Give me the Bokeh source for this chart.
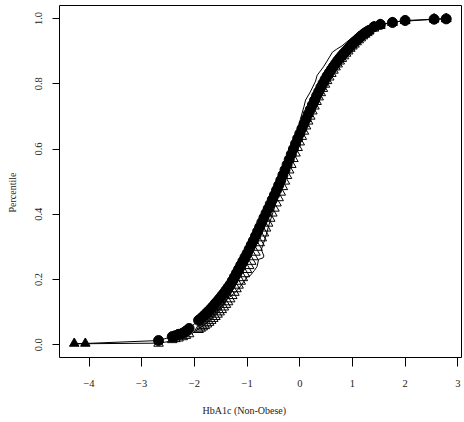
from bokeh.plotting import figure
from bokeh.models import Range1d, FixedTicker, Title, LinearAxis
from bokeh.embed import file_html
from bokeh.resources import INLINE

# ---------------- data ----------------
hba1c = [-2.68, -2.42, -2.36, -2.30, -2.22, -2.16, -2.10,
         -1.92, -1.88, -1.84, -1.80, -1.76, -1.72, -1.68, -1.64, -1.60, -1.56,
         -1.52, -1.48, -1.44, -1.40, -1.36, -1.32, -1.28, -1.24, -1.20, -1.16,
         -1.12, -1.08, -1.04, -1.00, -0.96, -0.92, -0.88, -0.84, -0.80, -0.76,
         -0.72, -0.68, -0.64, -0.60, -0.56, -0.52, -0.48, -0.44, -0.40, -0.36,
         -0.32, -0.28, -0.24, -0.20, -0.16, -0.12, -0.08, -0.04, 0.00, 0.04,
         0.08, 0.12, 0.16, 0.20, 0.24, 0.28, 0.32, 0.36, 0.40, 0.44, 0.48,
         0.52, 0.56, 0.60, 0.64, 0.68, 0.72, 0.76, 0.80, 0.84, 0.88, 0.92,
         0.96, 1.00, 1.04, 1.08, 1.12, 1.16, 1.20, 1.24, 1.28, 1.32,
         1.41, 1.53, 1.76, 2.00, 2.55, 2.78]

pct_circle = [0.013, 0.025, 0.028, 0.032, 0.036, 0.042, 0.050,
              0.075, 0.080, 0.086, 0.092, 0.099, 0.105, 0.112, 0.119, 0.127, 0.134,
              0.142, 0.150, 0.158, 0.167, 0.176, 0.185, 0.196, 0.208, 0.220, 0.232,
              0.244, 0.256, 0.268, 0.280, 0.293, 0.306, 0.319, 0.333, 0.347, 0.361,
              0.375, 0.389, 0.403, 0.417, 0.431, 0.445, 0.459, 0.474, 0.489, 0.504,
              0.520, 0.536, 0.552, 0.568, 0.584, 0.600, 0.616, 0.632, 0.647, 0.662,
              0.677, 0.692, 0.707, 0.721, 0.735, 0.749, 0.763, 0.776, 0.789, 0.801, 0.813,
              0.824, 0.834, 0.844, 0.853, 0.862, 0.871, 0.879, 0.887, 0.894, 0.901, 0.908,
              0.915, 0.922, 0.928, 0.934, 0.940, 0.946, 0.951, 0.956, 0.960, 0.964,
              0.975, 0.982, 0.988, 0.994, 0.998, 0.999]

pct_open = [0.004, 0.015, 0.018, 0.020, 0.024, 0.028, 0.033,
            0.046, 0.050, 0.054, 0.058, 0.063, 0.068, 0.074, 0.080, 0.086, 0.093,
            0.100, 0.107, 0.115, 0.123, 0.131, 0.140, 0.150, 0.160, 0.171, 0.182,
            0.194, 0.205, 0.217, 0.230, 0.242, 0.255, 0.269, 0.283, 0.298, 0.312,
            0.327, 0.342, 0.357, 0.372, 0.387, 0.403, 0.418, 0.434, 0.450, 0.467,
            0.484, 0.501, 0.518, 0.535, 0.552, 0.570, 0.587, 0.604, 0.621, 0.638,
            0.654, 0.670, 0.685, 0.700, 0.716, 0.731, 0.745, 0.759, 0.772, 0.785, 0.798,
            0.809, 0.820, 0.831, 0.841, 0.851, 0.860, 0.869, 0.877, 0.885, 0.893, 0.900,
            0.908, 0.915, 0.921, 0.928, 0.934, 0.940, 0.946, 0.951, 0.956, 0.961,
            0.970, 0.978, 0.987, 0.993, 0.998, 0.999]

tri_x = [-4.28, -4.07, 1.41, 1.53, 1.76, 2.00, 2.55, 2.78]
tri_y = [0.004, 0.004, 0.975, 0.982, 0.988, 0.994, 0.998, 0.999]

jag_x = [-4.28, -2.68, -2.40, -2.20, -2.05, -1.92, -1.80, -1.68, -1.55, -1.45,
         -1.38, -1.30, -1.19, -1.10, -1.00, -0.94, -0.86, -0.81, -0.78, -0.70,
         -0.68, -0.73, -0.70, -0.64, -0.58, -0.50, -0.40, -0.30, -0.20, -0.10,
         0.01, 0.08, 0.11, 0.20, 0.30, 0.33, 0.45, 0.52, 0.62, 0.70, 0.80,
         0.95, 1.12, 1.40, 1.80, 2.78]
jag_y = [0.003, 0.005, 0.012, 0.022, 0.034, 0.048, 0.062, 0.078, 0.098, 0.118,
         0.140, 0.150, 0.166, 0.185, 0.208, 0.212, 0.228, 0.240, 0.262, 0.266,
         0.272, 0.292, 0.305, 0.335, 0.370, 0.410, 0.460, 0.510, 0.560, 0.610,
         0.690, 0.730, 0.750, 0.775, 0.808, 0.826, 0.852, 0.870, 0.897, 0.906, 0.916,
         0.936, 0.958, 0.975, 0.990, 1.000]

x_ticks = [-4, -3, -2, -1, 0, 1, 2, 3]
x_tick_labels = ["\u22124", "\u22123", "\u22122", "\u22121", "0", "1", "2", "3"]
y_ticks = [0.0, 0.2, 0.4, 0.6, 0.8, 1.0]
y_tick_labels = ["0.0", "0.2", "0.4", "0.6", "0.8", "1.0"]

x_title = "HbA1c (Non-Obese)"
y_title = "Percentile"

# ---------------- figure ----------------
FONT = "Liberation Serif"
p = figure(width=464, height=422, output_backend="svg", toolbar_location=None,
           x_range=Range1d(-4.56, 3.07), y_range=Range1d(-0.039, 1.04),
           min_border_left=59, min_border_right=3, min_border_top=5,
           min_border_bottom=65)
p.background_fill_color = "white"
p.border_fill_color = "white"
p.outline_line_color = "black"
p.outline_line_width = 1
p.outline_line_alpha = 1
p.grid.visible = False

for ax in (p.xaxis[0], p.yaxis[0]):
    ax.axis_line_color = None
    ax.minor_tick_line_color = None
    ax.major_tick_in = 0
    ax.major_tick_line_color = "black"
    ax.major_label_text_font = FONT
    ax.major_label_text_font_size = "10.5px"
    ax.major_label_text_color = "#222222"

p.xaxis.ticker = FixedTicker(ticks=x_ticks)
p.xaxis.major_label_overrides = dict(zip(x_ticks, x_tick_labels))
p.xaxis.major_tick_out = 9
p.xaxis.major_label_standoff = 13

p.yaxis.ticker = FixedTicker(ticks=y_ticks)
p.yaxis.major_label_overrides = dict(zip(y_ticks, y_tick_labels))
p.yaxis.major_tick_out = 7
p.yaxis.major_label_standoff = 10
p.yaxis.major_label_orientation = "vertical"


def spacer(gap, at):
    # a blank axis (one white tick in an empty corner, no label, no line)
    # that only reserves room between the tick labels and the title
    return LinearAxis(ticker=FixedTicker(ticks=[at]), axis_line_color=None,
                      major_tick_line_color="white", minor_tick_line_color=None,
                      major_tick_in=0, major_tick_out=gap, minor_tick_in=0,
                      minor_tick_out=0, major_label_standoff=0,
                      major_label_overrides={at: ""},
                      major_label_text_font_size="0px")


# ---------------- glyphs ----------------
line_x = tri_x[:2] + hba1c
line_y = tri_y[:2] + pct_circle

p.line(jag_x, jag_y, line_color="black", line_width=1)
p.line(line_x, line_y, line_color="black", line_width=1)
p.scatter(hba1c, pct_open, marker="triangle", size=9.5, fill_color=None,
          line_color="black", line_width=1)
p.scatter(hba1c, pct_circle, marker="circle", size=10, fill_color="black",
          line_color="black", line_width=1)
p.scatter(tri_x, tri_y, marker="triangle", size=9.5, fill_color="black",
          line_color="black", line_width=1)

# ---------------- axis titles ----------------
p.add_layout(spacer(13, -4.5), "below")
xt = Title(text=x_title, align="left", offset=143, standoff=0,
           text_font=FONT, text_font_size="10px", text_font_style="normal",
           text_color="#222222")
p.add_layout(xt, "below")

p.add_layout(spacer(15, -0.03), "left")
yt = Title(text=y_title, align="left", offset=145, standoff=0,
           text_font=FONT, text_font_size="10px", text_font_style="normal",
           text_color="#222222")
p.add_layout(yt, "left")

open("out.html", "w").write(file_html(p, INLINE))
